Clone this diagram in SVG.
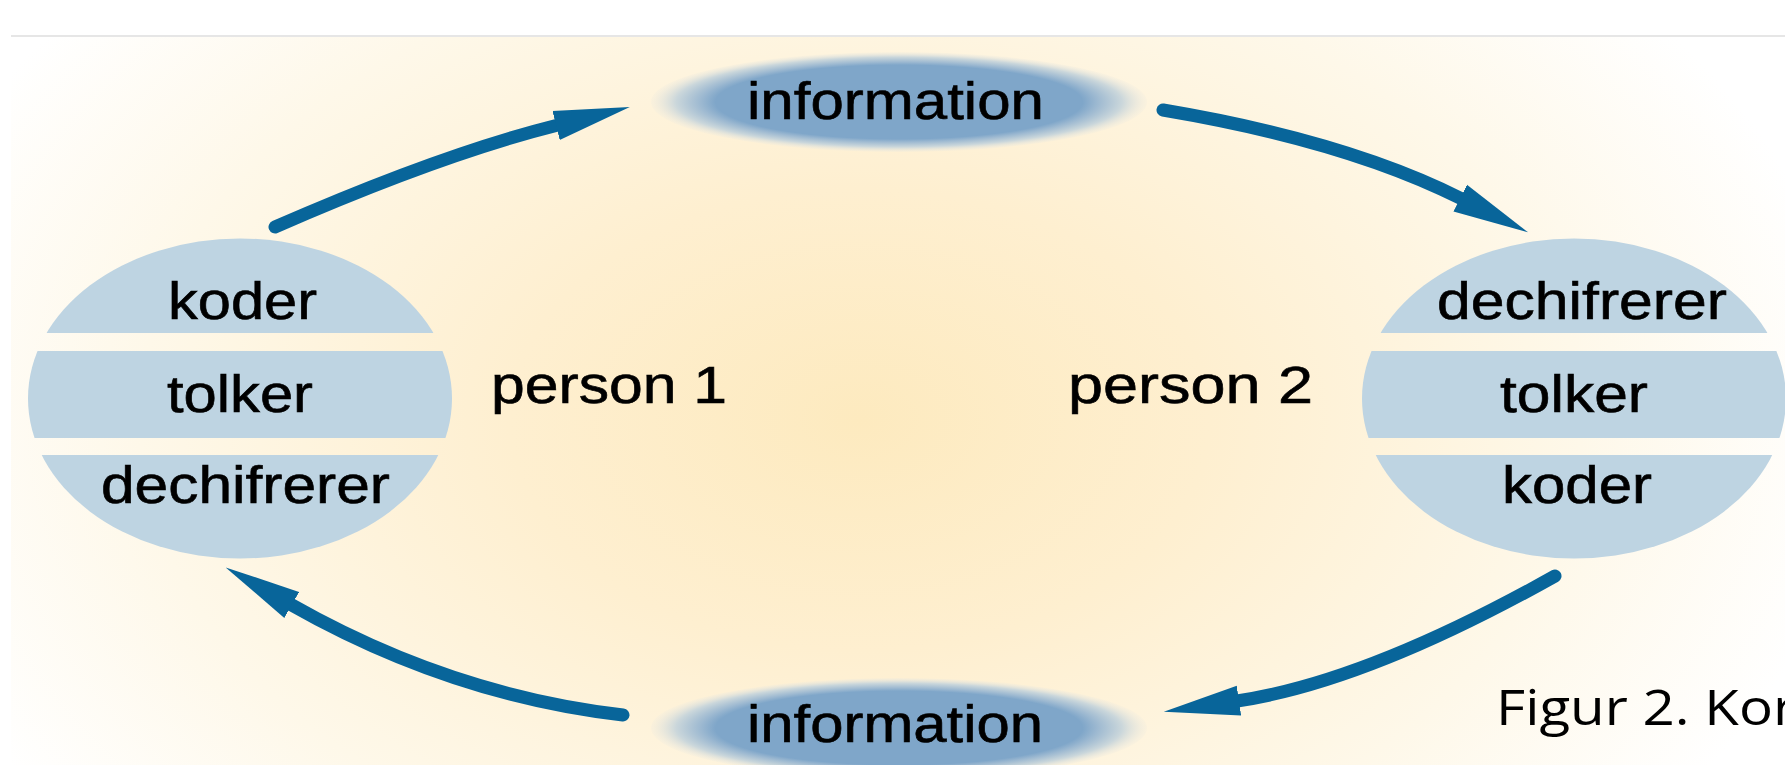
<svg xmlns="http://www.w3.org/2000/svg" width="1785" height="765" viewBox="0 0 1785 765">
  <style>
    .lbl { font-family: "Liberation Sans", Arial, sans-serif; font-size: 51px; fill: #000; stroke: #000; stroke-width: 0.6; }
    .cap { font-family: "Open Sans", "Noto Sans", sans-serif; font-size: 50px; fill: #000; }
    .person { fill: #bed4e2; }
    .conn { fill: none; stroke: #08659a; stroke-width: 13; stroke-linecap: round; }
  </style>
  <defs>
    <radialGradient id="bg" gradientUnits="userSpaceOnUse" cx="860" cy="420" r="1000" gradientTransform="translate(860 420) scale(1 0.66) translate(-860 -420)">
      <stop offset="0" stop-color="#fdeabf"/>
      <stop offset="0.35" stop-color="#feefd0"/>
      <stop offset="0.72" stop-color="#fef8e9"/>
      <stop offset="1" stop-color="#ffffff"/>
    </radialGradient>
    <radialGradient id="info">
      <stop offset="0" stop-color="#7fa6c9"/>
      <stop offset="0.74" stop-color="#7fa6c9"/>
      <stop offset="0.8" stop-color="#9db9d1"/>
      <stop offset="0.9" stop-color="#cbd7db"/>
      <stop offset="1" stop-color="#ebe9df" stop-opacity="0.2"/>
    </radialGradient>
    <clipPath id="bands1">
      <rect x="0" y="230" width="500" height="103"/>
      <rect x="0" y="351" width="500" height="87"/>
      <rect x="0" y="455" width="500" height="110"/>
    </clipPath>
    <clipPath id="bands2">
      <rect x="1340" y="230" width="460" height="103"/>
      <rect x="1340" y="351" width="460" height="87"/>
      <rect x="1340" y="455" width="460" height="110"/>
    </clipPath>
    <marker id="head" markerUnits="userSpaceOnUse" viewBox="0 -16 76 32" refX="2" refY="0" markerWidth="76" markerHeight="32" orient="auto">
      <path d="M0,-15 L76,0 L0,15 Z" fill="#08659a"/>
    </marker>
  </defs>

  <g id="background">
    <rect x="0" y="0" width="1785" height="765" fill="#ffffff"/>
    <rect x="11" y="37" width="1774" height="728" fill="url(#bg)"/>
    <line x1="11" y1="36" x2="1785" y2="36" stroke="#e6e6e6" stroke-width="2"/>
  </g>

  <g id="connectors">
    <path class="conn" d="M275,227 Q442,154 558,125" marker-end="url(#head)"/>
    <path class="conn" d="M1163,110 Q1347,141 1462,199" marker-end="url(#head)"/>
    <path class="conn" d="M1555,576 Q1366,682 1237,701" marker-end="url(#head)"/>
    <path class="conn" d="M623,715 Q450,695 290,604" marker-end="url(#head)"/>
  </g>

  <g id="info-top">
    <ellipse cx="899" cy="102" rx="248" ry="50" fill="url(#info)"/>
    <text class="lbl" x="747" y="119" textLength="297" lengthAdjust="spacingAndGlyphs">information</text>
  </g>

  <g id="info-bottom">
    <ellipse cx="899" cy="728" rx="248" ry="50" fill="url(#info)"/>
    <text class="lbl" x="747" y="742" textLength="296" lengthAdjust="spacingAndGlyphs">information</text>
  </g>

  <g id="person1">
    <ellipse class="person" cx="240" cy="398.5" rx="212" ry="160" clip-path="url(#bands1)"/>
    <text class="lbl" x="168" y="319" textLength="149" lengthAdjust="spacingAndGlyphs">koder</text>
    <text class="lbl" x="167" y="412" textLength="146" lengthAdjust="spacingAndGlyphs">tolker</text>
    <text class="lbl" x="101" y="503" textLength="289" lengthAdjust="spacingAndGlyphs">dechifrerer</text>
  </g>
  <g id="person1-label">
    <text class="lbl" x="491" y="403" textLength="236" lengthAdjust="spacingAndGlyphs">person 1</text>
  </g>

  <g id="person2">
    <ellipse class="person" cx="1574" cy="398.5" rx="212" ry="160" clip-path="url(#bands2)"/>
    <text class="lbl" x="1437" y="319" textLength="290" lengthAdjust="spacingAndGlyphs">dechifrerer</text>
    <text class="lbl" x="1500" y="412" textLength="148" lengthAdjust="spacingAndGlyphs">tolker</text>
    <text class="lbl" x="1502" y="503" textLength="150" lengthAdjust="spacingAndGlyphs">koder</text>
  </g>
  <g id="person2-label">
    <text class="lbl" x="1068" y="403" textLength="245" lengthAdjust="spacingAndGlyphs">person 2</text>
  </g>

  <g id="caption">
    <text class="cap" x="1496" y="725" textLength="300" lengthAdjust="spacingAndGlyphs">Figur 2. Kor</text>
  </g>
</svg>
